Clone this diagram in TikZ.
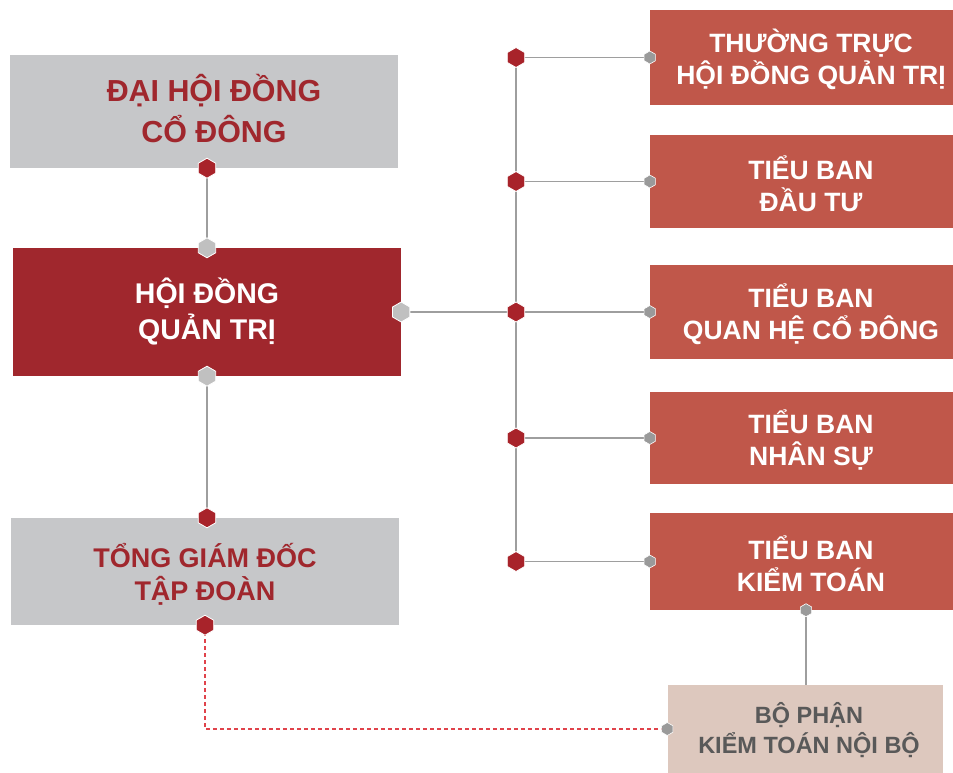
\documentclass[tikz,border=0pt]{standalone}
\usepackage{fontspec}
\setmainfont{Liberation Sans}
\usetikzlibrary{shapes.geometric}
\definecolor{dred}{HTML}{A0272D}
\definecolor{rbox}{HTML}{C0574A}
\definecolor{gbox}{HTML}{C6C7C9}
\definecolor{pbox}{HTML}{DDC8BE}
\definecolor{gtext}{HTML}{595959}
\definecolor{hexred}{HTML}{A8232A}
\definecolor{hexgray}{HTML}{C0C0C0}
\definecolor{hexdark}{HTML}{9A9A9A}
\definecolor{linegray}{HTML}{9E9E9E}
\definecolor{dashred}{HTML}{E0434B}
\pgfdeclarelayer{bg}
\pgfsetlayers{bg,main}
\tikzset{
  box/.style={rectangle, inner sep=0pt, align=center},
  graybox/.style={box, fill=gbox, minimum width=388pt},
  redbox/.style={box, fill=rbox, minimum width=322pt},
  boxtext/.style 2 args={align=center, inner sep=0pt, font=\bfseries\fontsize{#1}{#2}\selectfont},
  redtext/.style={boxtext={26.5}{32}, text=white, yshift=-2pt},
  hexr/.style={regular polygon, regular polygon sides=6, shape border rotate=30,
    fill=hexred, draw=white, line width=0.8pt, minimum size=20pt, inner sep=0pt},
  hexg/.style={hexr, fill=hexgray},
  hexs/.style={hexr, fill=hexdark, line width=0.6pt, minimum size=13pt},
  conn/.style={draw=linegray, line width=1.2pt},
  dconn/.style={draw=dashred, line width=1.1pt, dash pattern=on 4pt off 3pt}
}
\begin{document}
\begin{tikzpicture}[x=1pt,y=-1pt]
\useasboundingbox (0,0) rectangle (953,773);
% left column
\node[graybox, minimum height=113pt,
  label={[boxtext={30.4}{41}, text=dred, xshift=10pt, yshift=3pt]center:ĐẠI HỘI ĐỒNG\\CỔ ĐÔNG}] (dhcd) at (204,111.5) {};
\node[box, fill=dred, minimum width=388pt, minimum height=128pt,
  label={[boxtext={28.5}{36}, text=white]center:HỘI ĐỒNG\\QUẢN TRỊ}] (hdqt) at (207,312) {};
\node[graybox, minimum height=107pt,
  label={[boxtext={27}{33}, text=dred, yshift=-3pt]center:TỔNG GIÁM ĐỐC\\TẬP ĐOÀN}] (tgd) at (205,571.5) {};
% right column
\node[redbox, minimum height=95pt, label={[redtext]center:THƯỜNG TRỰC\\HỘI ĐỒNG QUẢN TRỊ}] (r1) at (811,57.5) {};
\node[redbox, minimum height=93pt, label={[redtext]center:TIỂU BAN\\ĐẦU TƯ}] (r2) at (811,181.5) {};
\node[redbox, minimum height=94pt, label={[redtext]center:TIỂU BAN\\QUAN HỆ CỔ ĐÔNG}] (r3) at (811,312) {};
\node[redbox, minimum height=92pt, label={[redtext]center:TIỂU BAN\\NHÂN SỰ}] (r4) at (811,438) {};
\node[redbox, minimum height=97pt, label={[redtext]center:TIỂU BAN\\KIỂM TOÁN}] (r5) at (811,561.5) {};
\node[box, fill=pbox, minimum width=275pt, minimum height=88pt,
  label={[boxtext={23.5}{30}, text=gtext, xshift=4pt, yshift=-1pt]center:BỘ PHẬN\\KIỂM TOÁN NỘI BỘ}] (bp) at (805,729) {};
% hexagon markers
\coordinate (jx) at (516,0);
\coordinate (ax) at (806,0);
\node[hexr] (hA) at (dhcd.south -| hdqt.north) {};
\node[hexg] (hB) at (hdqt.north) {};
\node[hexg] (hC) at (hdqt.east) {};
\node[hexg] (hD) at (hdqt.south) {};
\node[hexr] (hE) at (tgd.north -| hdqt.north) {};
\node[hexr] (hF) at (tgd.south) {};
\foreach \i in {1,...,5}{
  \node[hexr] (j\i) at (r\i.west -| jx) {};
  \node[hexs] (s\i) at (r\i.west) {};
}
\node[hexs] (s6) at (r5.south -| ax) {};
\node[hexs] (s7) at (bp.west) {};
% connectors
\begin{pgfonlayer}{bg}
\draw[conn] (hA.center) -- (hB.center);
\draw[conn] (hD.center) -- (hE.center);
\draw[conn] (hC.center) -- (j3.center);
\draw[conn] (j1.center) -- (j5.center);
\foreach \i in {1,...,5}{\draw[conn] (j\i.center) -- (s\i.center);}
\draw[conn] (s6.center) -- (s6.center |- bp.north);
\draw[dconn] (hF.center) |- (s7.center);
\end{pgfonlayer}
\end{tikzpicture}
\end{document}
